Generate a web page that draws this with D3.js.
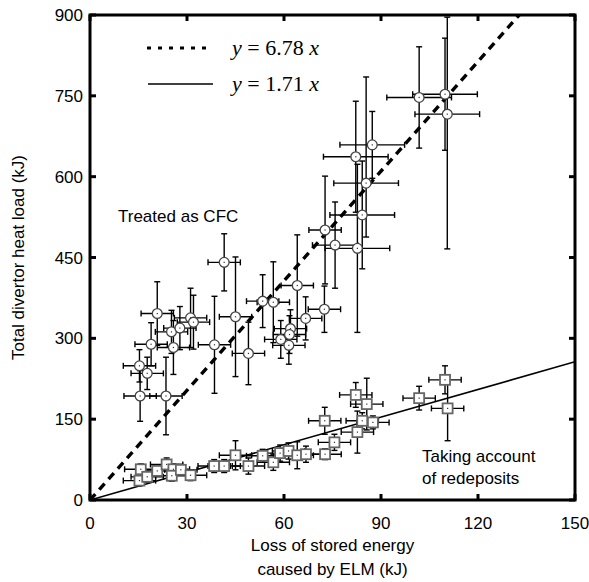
<!DOCTYPE html>
<html>
<head>
<meta charset="utf-8">
<script src="https://cdn.jsdelivr.net/npm/d3@7"></script>
<style>
  body { margin: 0; background: #fff; }
  text { font-family: "Liberation Sans", Arial, sans-serif; fill: #000; }
</style>
</head>
<body>
<div id="root"></div>
<script>
// CFC points: x, y, x error, y error (low / high)
var cfcX  = [41.5, 20.8, 15.3, 17.7, 15.5, 23.5, 18.9, 25.2, 25.8, 27.8, 31.1, 32.0, 38.5, 45.0, 49.0, 53.4, 56.7, 64.1, 62.0, 59.0, 61.5, 61.7, 66.7, 72.5, 72.7, 75.8, 82.2, 87.3, 85.4, 84.2, 82.7, 101.8, 109.8, 110.5];
var cfcY  = [441, 346, 249, 235, 193, 193, 289, 312, 283, 319, 338, 330, 288, 340, 272, 369, 367, 398, 318, 298, 287, 307, 337, 354, 501, 473, 637, 659, 588, 529, 467, 747, 753, 716];
var cfcEx = [5, 5, 5, 5, 5, 5, 5, 5, 5, 5, 5, 5, 5, 5, 5, 5, 5, 5, 5, 5, 5, 5, 5, 5, 5, 7, 10, 10, 10, 10, 10, 10, 10, 10];
var cfcLo = [53, 59, 30, 30, 47, 72, 40, 40, 50, 40, 55, 50, 90, 111, 58, 49, 75, 94, 35, 35, 35, 35, 40, 43, 100, 80, 103, 62, 100, 100, 156, 94, 104, 250];
var cfcHi = [53, 59, 30, 30, 47, 72, 40, 40, 50, 40, 55, 50, 90, 111, 58, 49, 75, 94, 35, 35, 35, 35, 40, 43, 100, 80, 103, 62, 197, 100, 156, 94, 104, 180];

// redeposit points
var redX  = [15.7, 15.3, 17.7, 20.8, 23.7, 25.8, 25.3, 28.1, 31.1, 38.4, 41.5, 45.0, 49.0, 53.4, 56.7, 58.8, 61.4, 64.1, 66.8, 72.7, 72.6, 75.6, 82.2, 85.6, 84.2, 87.5, 82.7, 101.8, 109.8, 110.6];
var redY  = [57, 36, 43, 54, 66, 57, 45, 56, 46, 63, 63, 83, 63, 82, 70, 87, 91, 83, 85, 85, 147, 107, 195, 178, 147, 144, 126, 189, 223, 170];
var redEx = [5, 5, 5, 5, 5, 5, 5, 5, 5, 5, 5, 5, 5, 5, 5, 5, 5, 5, 5, 5, 5, 5, 5, 5, 5, 5, 5, 5, 5, 5];
var redEy = [10, 10, 10, 10, 12, 10, 10, 10, 10, 12, 12, 27, 15, 12, 15, 15, 15, 25, 15, 10, 25, 15, 23, 48, 15, 12, 39, 22, 26, 60];

var xTicks = [0, 30, 60, 90, 120, 150];
var yTicks = [0, 150, 300, 450, 600, 750, 900];
var slopeCfc = 6.78, slopeRed = 1.71;

var width = 589, height = 582;
var margin = {left: 90, right: 14, top: 15, bottom: 82};

var svg = d3.select("#root").append("svg")
    .attr("width", width)
    .attr("height", height);

var x = d3.scaleLinear().domain([0, 150]).range([margin.left, width - margin.right]);
var y = d3.scaleLinear().domain([0, 900]).range([height - margin.bottom, margin.top]);

svg.append("clipPath").attr("id", "plot")
  .append("rect")
    .attr("x", x(0)).attr("y", y(900))
    .attr("width", x(150) - x(0)).attr("height", y(0) - y(900));

var plot = svg.append("g").attr("clip-path", "url(#plot)");

// fit lines
plot.append("line")
    .attr("x1", x(0)).attr("y1", y(0))
    .attr("x2", x(900 / slopeCfc)).attr("y2", y(900))
    .attr("stroke", "#000").attr("stroke-width", 3.4)
    .attr("stroke-dasharray", "8,6");

plot.append("line")
    .attr("x1", x(0)).attr("y1", y(0))
    .attr("x2", x(150)).attr("y2", y(150 * slopeRed))
    .attr("stroke", "#000").attr("stroke-width", 1.6);

function errorBars(g, xs, ys, exs, lo, hi){
    var cap = 3;
    xs.forEach(function(v, i){
        var cx = x(v), cy = y(ys[i]);
        var y0 = y(ys[i] - lo[i]), y1 = y(ys[i] + hi[i]);
        var x0 = x(v - exs[i]), x1 = x(v + exs[i]);
        var e = g.append("g").attr("stroke", "#000").attr("stroke-width", 1.4);
        e.append("line").attr("x1", cx).attr("x2", cx).attr("y1", y0).attr("y2", y1);
        e.append("line").attr("x1", cx - cap).attr("x2", cx + cap).attr("y1", y0).attr("y2", y0);
        e.append("line").attr("x1", cx - cap).attr("x2", cx + cap).attr("y1", y1).attr("y2", y1);
        e.append("line").attr("x1", x0).attr("x2", x1).attr("y1", cy).attr("y2", cy);
        e.append("line").attr("x1", x0).attr("x2", x0).attr("y1", cy - cap).attr("y2", cy + cap);
        e.append("line").attr("x1", x1).attr("x2", x1).attr("y1", cy - cap).attr("y2", cy + cap);
    });
}

errorBars(plot.append("g"), cfcX, cfcY, cfcEx, cfcLo, cfcHi);
errorBars(plot.append("g"), redX, redY, redEx, redEy, redEy);

// markers
plot.selectAll(".cfc").data(cfcX).enter().append("circle")
    .attr("class", "cfc")
    .attr("cx", function(d){ return x(d); })
    .attr("cy", function(d, i){ return y(cfcY[i]); })
    .attr("r", 4.9)
    .attr("fill", "#fff").attr("stroke", "#444").attr("stroke-width", 1.3);

plot.selectAll(".red").data(redX).enter().append("rect")
    .attr("class", "red")
    .attr("x", function(d){ return x(d) - 5; })
    .attr("y", function(d, i){ return y(redY[i]) - 5; })
    .attr("width", 10).attr("height", 10)
    .attr("fill", "#fff").attr("stroke", "#666").attr("stroke-width", 1.8);

// centre dots
plot.selectAll(".dotc").data(cfcX.concat(redX)).enter().append("rect")
    .attr("x", function(d){ return x(d) - 0.6; })
    .attr("y", function(d, i){ return y(cfcY.concat(redY)[i]) - 0.6; })
    .attr("width", 1.2).attr("height", 1.2)
    .attr("fill", "#333");

// frame and axes
svg.append("rect")
    .attr("x", x(0)).attr("y", y(900))
    .attr("width", x(150) - x(0)).attr("height", y(0) - y(900))
    .attr("fill", "none").attr("stroke", "#000").attr("stroke-width", 3);

var tickLen = 6;
xTicks.forEach(function(t){
    svg.append("line").attr("x1", x(t)).attr("x2", x(t))
        .attr("y1", y(0)).attr("y2", y(0) - tickLen)
        .attr("stroke", "#000").attr("stroke-width", 3);
    svg.append("line").attr("x1", x(t)).attr("x2", x(t))
        .attr("y1", y(900)).attr("y2", y(900) + tickLen)
        .attr("stroke", "#000").attr("stroke-width", 3);
    svg.append("text").attr("x", x(t)).attr("y", y(0) + 29)
        .attr("text-anchor", "middle").attr("font-size", 17).text(t);
});
yTicks.forEach(function(t){
    svg.append("line").attr("x1", x(0)).attr("x2", x(0) + tickLen)
        .attr("y1", y(t)).attr("y2", y(t))
        .attr("stroke", "#000").attr("stroke-width", 3);
    svg.append("line").attr("x1", x(150)).attr("x2", x(150) - tickLen)
        .attr("y1", y(t)).attr("y2", y(t))
        .attr("stroke", "#000").attr("stroke-width", 3);
    svg.append("text").attr("x", x(0) - 7).attr("y", y(t) + 6)
        .attr("text-anchor", "end").attr("font-size", 17).text(t);
});

// axis titles
svg.append("text").attr("x", (x(0) + x(150)) / 2).attr("y", 551)
    .attr("text-anchor", "middle").attr("font-size", 17).text("Loss of stored energy");
svg.append("text").attr("x", (x(0) + x(150)) / 2).attr("y", 575)
    .attr("text-anchor", "middle").attr("font-size", 17).text("caused by ELM (kJ)");
svg.append("text")
    .attr("transform", "translate(24," + ((y(0) + y(900)) / 2) + ") rotate(-90)")
    .attr("text-anchor", "middle").attr("font-size", 17).text("Total divertor heat load (kJ)");

// legend
svg.append("line").attr("x1", 147).attr("x2", 210).attr("y1", 48).attr("y2", 48)
    .attr("stroke", "#000").attr("stroke-width", 3).attr("stroke-dasharray", "4,7");
svg.append("line").attr("x1", 148).attr("x2", 213).attr("y1", 84).attr("y2", 84)
    .attr("stroke", "#000").attr("stroke-width", 1.6);

function legendText(yy, slope){
    var t = svg.append("text").attr("x", 232).attr("y", yy + 7)
        .style("font-family", "'Liberation Serif', 'Times New Roman', serif")
        .attr("font-size", 22);
    t.append("tspan").attr("font-style", "italic").text("y");
    t.append("tspan").text(" = " + slope + " ");
    t.append("tspan").attr("font-style", "italic").text("x");
}
legendText(48, slopeCfc);
legendText(84, slopeRed);

// annotations
svg.append("text").attr("x", 118).attr("y", 222).attr("font-size", 17).text("Treated as CFC");
svg.append("text").attr("x", 422).attr("y", 462).attr("font-size", 17).text("Taking account");
svg.append("text").attr("x", 422).attr("y", 484).attr("font-size", 17).text("of redeposits");
</script>
</body>
</html>
